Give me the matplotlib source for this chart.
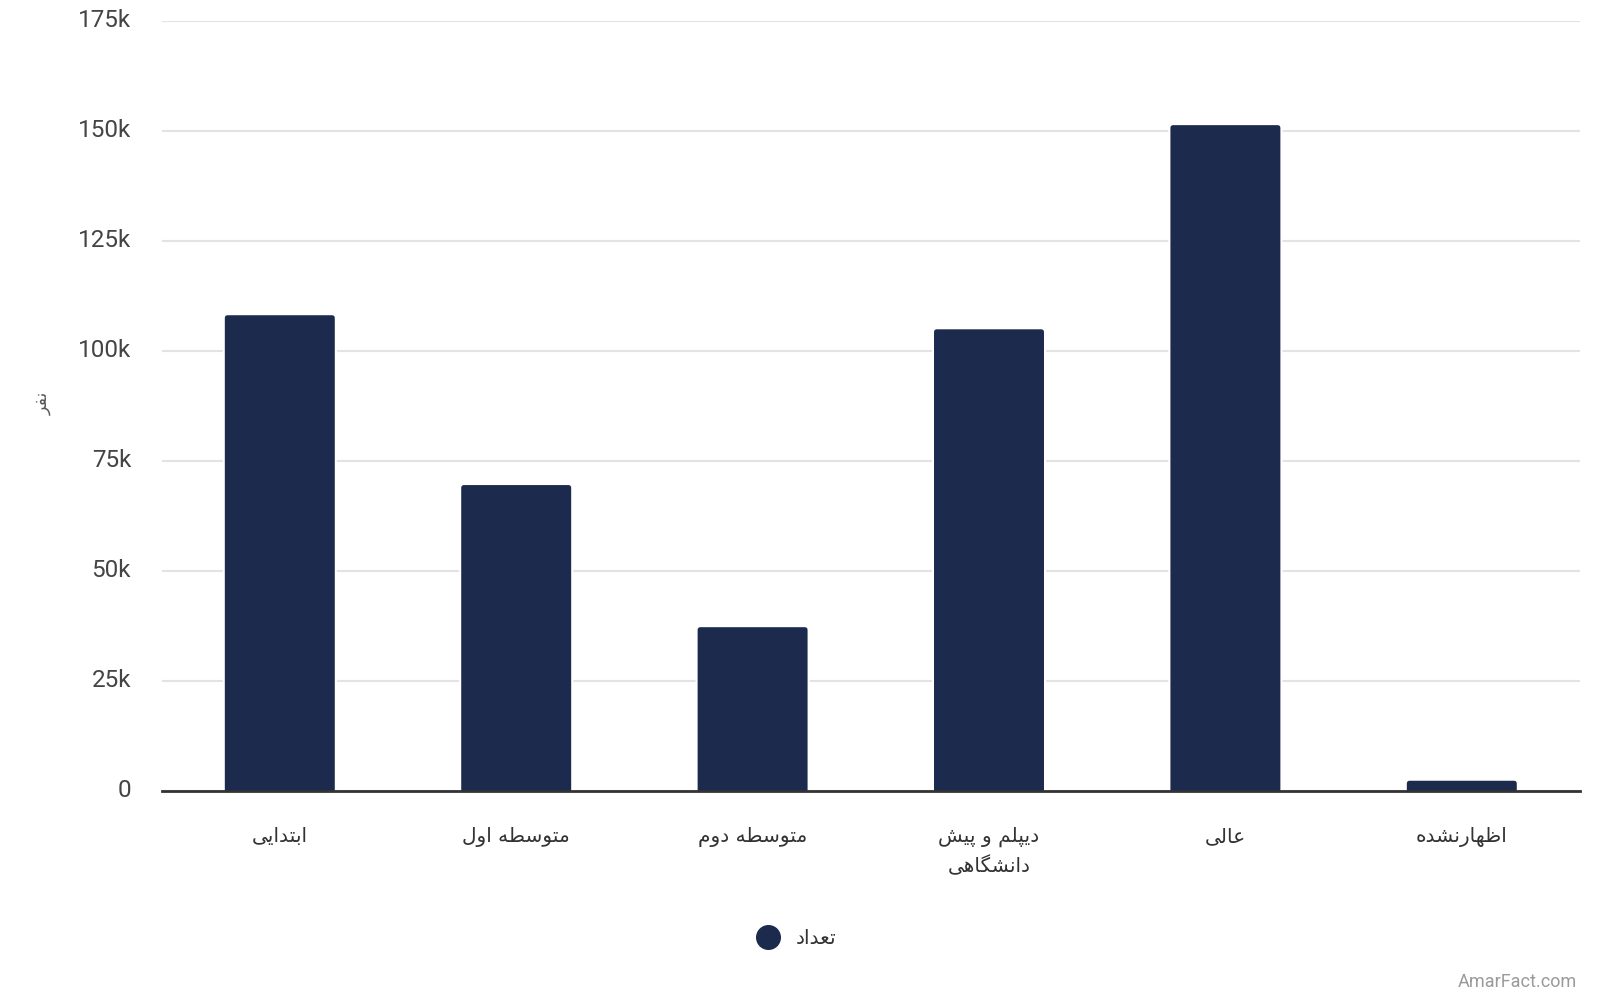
import matplotlib
matplotlib.use("Agg")
import matplotlib.pyplot as plt
import matplotlib.transforms as mtransforms
from matplotlib.lines import Line2D
from matplotlib.patches import FancyBboxPatch
from matplotlib.ticker import FuncFormatter, MultipleLocator

# ---- data ----
categories = ["ابتدایی", "متوسطه اول", "متوسطه دوم", "دیپلم و پیش\nدانشگاهی", "عالی", "اظهارنشده"]
values = [108300, 69700, 37400, 105100, 151500, 2500]
series_name = "تعداد"
y_label = "نفر"
watermark = "AmarFact.com"

BAR = "#1c2a4e"

# ---- minimal Arabic/Persian shaping (presentation forms) ----
FORMS = {
    "\u0627": ("\uFE8D", "\uFE8E", None, None),
    "\u0628": ("\uFE8F", "\uFE90", "\uFE91", "\uFE92"),
    "\u062A": ("\uFE95", "\uFE96", "\uFE97", "\uFE98"),
    "\u062F": ("\uFEA9", "\uFEAA", None, None),
    "\u0631": ("\uFEAD", "\uFEAE", None, None),
    "\u0633": ("\uFEB1", "\uFEB2", "\uFEB3", "\uFEB4"),
    "\u0634": ("\uFEB5", "\uFEB6", "\uFEB7", "\uFEB8"),
    "\u0637": ("\uFEC1", "\uFEC2", "\uFEC3", "\uFEC4"),
    "\u0638": ("\uFEC5", "\uFEC6", "\uFEC7", "\uFEC8"),
    "\u0639": ("\uFEC9", "\uFECA", "\uFECB", "\uFECC"),
    "\u0641": ("\uFED1", "\uFED2", "\uFED3", "\uFED4"),
    "\u0644": ("\uFEDD", "\uFEDE", "\uFEDF", "\uFEE0"),
    "\u0645": ("\uFEE1", "\uFEE2", "\uFEE3", "\uFEE4"),
    "\u0646": ("\uFEE5", "\uFEE6", "\uFEE7", "\uFEE8"),
    "\u0647": ("\uFEE9", "\uFEEA", "\uFEEB", "\uFEEC"),
    "\u0648": ("\uFEED", "\uFEEE", None, None),
    "\u06CC": ("\uFBFC", "\uFBFD", "\uFBFE", "\uFBFF"),
    "\u067E": ("\uFB56", "\uFB57", "\uFB58", "\uFB59"),
    "\u06AF": ("\uFB92", "\uFB93", "\uFB94", "\uFB95"),
}


def joins_left(c):
    f = FORMS.get(c)
    return f is not None and f[2] is not None


def shape_line(s):
    out = []
    n = len(s)
    for i, c in enumerate(s):
        f = FORMS.get(c)
        if f is None:
            out.append(c)
            continue
        prev_joins = i > 0 and joins_left(s[i - 1])
        next_ok = i + 1 < n and s[i + 1] in FORMS
        can_left = f[2] is not None and next_ok
        if prev_joins and can_left:
            out.append(f[3])
        elif prev_joins:
            out.append(f[1])
        elif can_left:
            out.append(f[2])
        else:
            out.append(f[0])
    return "".join(out)[::-1]


def fa(s):
    return "\n".join(shape_line(line) for line in s.split("\n"))


# ---- figure ----
fig = plt.figure(figsize=(16, 10), dpi=100)
ax = fig.add_axes([0.101, 0.2093, 0.8865, 0.7700])

x = list(range(len(categories)))
ax.set_xlim(-0.5, len(categories) - 0.5)
ax.set_ylim(0, 175000)
bars = ax.bar(x, values, width=0.474, color=BAR, linewidth=0, zorder=2)

# rounded top corners: replace each bar by a rounded box with the same geometry
fig.canvas.draw()
px_per_x = ax.transData.transform((1, 0))[0] - ax.transData.transform((0, 0))[0]
px_per_y = ax.transData.transform((0, 1000))[1] - ax.transData.transform((0, 0))[1]
aspect = (1000 / px_per_y) / (1 / px_per_x)
rad = 4 / px_per_x
for b in bars:
    x0, w, h = b.get_x(), b.get_width(), b.get_height()
    ext = 10 * rad * aspect
    fb = FancyBboxPatch((x0, -ext), w, h + ext,
                        boxstyle=f"round,pad=0,rounding_size={rad}",
                        mutation_aspect=aspect, facecolor=BAR, edgecolor="white",
                        linewidth=1.5, zorder=2)
    ax.add_patch(fb)
    b.set_visible(False)

ax.yaxis.set_major_locator(MultipleLocator(25000))
ax.yaxis.set_major_formatter(FuncFormatter(lambda v, p: "0" if v == 0 else f"{int(v/1000)}k"))
ax.grid(axis="y", color="#e3e3e3", linewidth=1.5, zorder=0)
ax.set_axisbelow(True)

for s in ["top", "right", "left"]:
    ax.spines[s].set_visible(False)
ax.spines["bottom"].set_color("#333333")
ax.spines["bottom"].set_linewidth(2)
ax.spines["bottom"].set_zorder(3)

ax.tick_params(axis="both", length=0)
ax.tick_params(axis="y", pad=22, labelsize=17.5, labelcolor="#444444")
up = mtransforms.ScaledTranslation(0, 3 / 100, fig.dpi_scale_trans)
for t in ax.get_yticklabels():
    t.set_fontfamily(["Roboto", "DejaVu Sans"])
    t.set_transform(t.get_transform() + up)

ax.set_xticks(x)
ax.set_xticklabels([fa(c) for c in categories], fontsize=14.5, color="#333333",
                   fontfamily=["DejaVu Sans"], linespacing=1.5)
ax.tick_params(axis="x", pad=26)

fig.text(0.027, 0.597, fa(y_label), rotation=90, ha="center", va="center",
         fontsize=12.5, color="#555555", fontfamily=["DejaVu Sans"])

handle = Line2D([], [], linestyle="none", marker="o", markersize=17,
                markerfacecolor=BAR, markeredgecolor=BAR)
leg = fig.legend([handle], [fa(series_name)], loc="center", bbox_to_anchor=(0.495, 0.061),
                 frameon=False, handletextpad=0.4,
                 prop={"family": ["DejaVu Sans"], "size": 14.5})
for t in leg.get_texts():
    t.set_color("#333333")

fig.text(0.9855, 0.018, watermark, ha="right", va="center", fontsize=13,
         color="#9a9a9a", fontfamily=["Roboto", "DejaVu Sans"])

fig.savefig("out.png", dpi=100, facecolor="white")
